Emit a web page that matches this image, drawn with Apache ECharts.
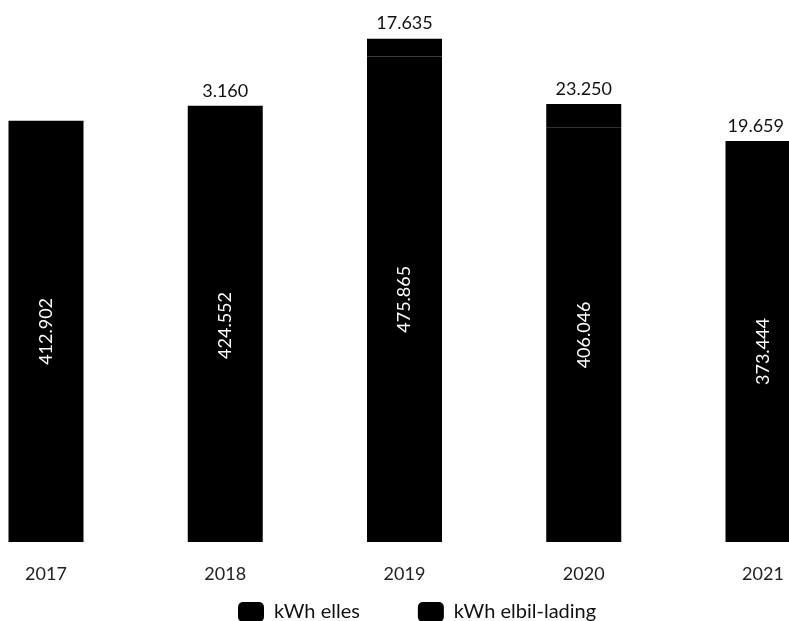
<!DOCTYPE html>
<html>
<head>
<meta charset="utf-8">
<script src="https://cdn.jsdelivr.net/npm/echarts@6/dist/echarts.min.js"></script>
<style>html,body{margin:0;padding:0;background:#fff}#c{width:789px;height:621px}</style>
</head>
<body>
<div id="c"></div>
<script>
const years = ['2017', '2018', '2019', '2020', '2021'];
const kwhElles = [412902, 424552, 475865, 406046, 373444];
const kwhElbil = [null, 3160, 17635, 23250, 19659];

function fmt(v) {
  if (v === null || v === undefined || v === 0) return '';
  return String(v).replace(/\B(?=(\d{3})+(?!\d))/g, '.');
}

const chart = echarts.init(document.getElementById('c'));
const FONT = 'Lato';
chart.setOption({
  animation: false,
  grid: { left: 46, right: 26, top: 32, bottom: 79, containLabel: false },
  legend: {
    left: 233, top: 597,
    itemWidth: 26, itemHeight: 20, itemGap: 58,
    icon: 'roundRect',
    textStyle: { fontFamily: FONT, fontSize: 20, color: '#111', padding: [0, 0, 0, 5] },
    data: ['kWh elles', 'kWh elbil-lading']
  },
  xAxis: {
    type: 'category',
    data: years,
    boundaryGap: false,
    axisLine: { show: false },
    axisTick: { show: false },
    axisLabel: { fontFamily: FONT, fontSize: 18, color: '#222', margin: 23 }
  },
  yAxis: {
    type: 'value', min: 0, max: 500000, interval: 100000,
    show: false,
    splitLine: { show: false }
  },
  series: [
    {
      name: 'kWh elles', type: 'bar', stack: 'a', barWidth: 75, clip: false,
      data: kwhElles,
      itemStyle: { color: '#000' },
      label: {
        show: true, position: 'inside', rotate: 90, color: '#fff',
        fontFamily: FONT, fontSize: 18,
        formatter: p => fmt(p.value)
      }
    },
    {
      name: 'kWh elbil-lading', type: 'bar', stack: 'a', barWidth: 75, clip: false,
      data: kwhElbil,
      itemStyle: { color: '#000' },
      label: {
        show: true, position: 'top', distance: 6, color: '#111',
        fontFamily: FONT, fontSize: 18,
        formatter: p => fmt(p.value)
      },
      labelLayout: function (p) {
        const r = p.labelRect;
        const limit = 784;
        if (r.x + r.width > limit) {
          return { x: limit - r.width, y: r.y, align: 'left', verticalAlign: 'top' };
        }
        return {};
      }
    }
  ]
});
</script>
</body>
</html>
